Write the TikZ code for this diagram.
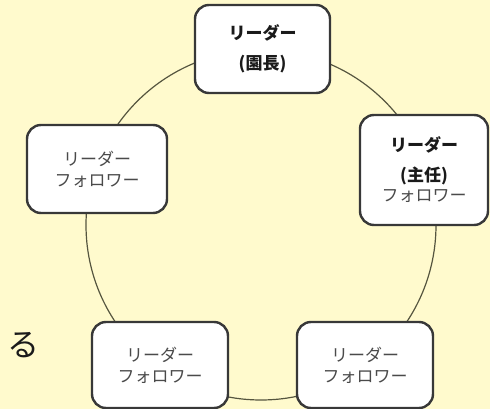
\documentclass[tikz,border=0pt]{standalone}
\usepackage{fontspec}
\setmainfont{Noto Sans CJK JP}
\definecolor{bgyellow}{HTML}{FFFACD}
\definecolor{boxline}{HTML}{383838}
\definecolor{ringline}{HTML}{55553F}
\definecolor{followtext}{HTML}{4A4A4A}
\definecolor{leadtext}{HTML}{1A1A1A}
\tikzset{
  rolebox/.style={draw=boxline, line width=2.4pt, fill=white, rounded corners=14pt,
    align=center, inner sep=0pt, font=\fontsize{17}{21}\selectfont},
  ring/.style={draw=ringline, line width=1.2pt},
}
\newcommand{\ldr}[1]{{\bfseries\color{leadtext}#1}}
\newcommand{\flw}[1]{{\color{followtext}#1}}
\begin{document}
\begin{tikzpicture}[x=1pt,y=-1pt]
  \fill[bgyellow] (0,0) rectangle (490,409);
  \useasboundingbox (0,0) rectangle (490,409);
  \coordinate (c) at (261,225);
  \draw[ring] (c) circle [radius=175];
  \node[rolebox, minimum width=135pt, minimum height=88pt] (top) at (262.5,49)
    {\ldr{リーダー}\\[9pt]\ldr{(園長)}};
  \node[rolebox, minimum width=128pt, minimum height=110pt] (right) at (424,170)
    {\ldr{リーダー}\\[9pt]\ldr{(主任)}\\[-1pt]\flw{フォロワー}};
  \node[rolebox, minimum width=140pt, minimum height=88pt] (left) at (97,169)
    {\flw{リーダー}\\\flw{フォロワー}};
  \node[rolebox, minimum width=136pt, minimum height=86pt] (bl) at (160,365)
    {\flw{リーダー}\\\flw{フォロワー}};
  \node[rolebox, minimum width=136pt, minimum height=86pt] (br) at (365,365)
    {\flw{リーダー}\\\flw{フォロワー}};
  \node[text=leadtext, font=\fontsize{32}{32}\selectfont, inner sep=0pt] (ru) at (23,345) {る};
\end{tikzpicture}
\end{document}
